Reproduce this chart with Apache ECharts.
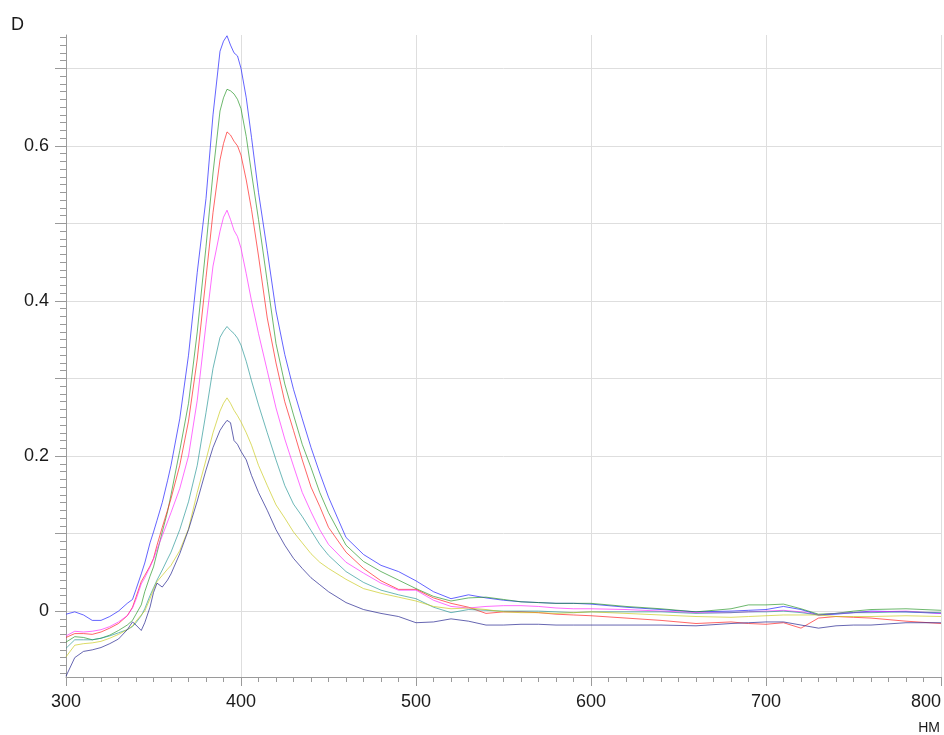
<!DOCTYPE html>
<html>
<head>
<meta charset="utf-8">
<script src="https://cdn.jsdelivr.net/npm/echarts@6/dist/echarts.min.js"></script>
<style>
  html, body { margin: 0; padding: 0; background: #ffffff; }
  #chart { width: 944px; height: 735px; }
</style>
</head>
<body>
<div id="chart"></div>
<script>
// Wavelength grid (nm) shared by all spectra
const wavelengths = [300,305,310,315,320,325,330,335,338,340,343,345,348,350,352,355,358,360,
  365,370,375,380,384,388,390,392,394,396,398,400,403,406,410,415,420,425,430,435,440,445,450,
  460,470,480,490,500,510,520,530,540,550,560,570,580,590,600,620,640,660,680,
  690,700,710,720,730,740,750,760,780,800];

// Optical density of each spectrum
const specBlue = [-0.004,-0.001,-0.005,-0.012,-0.012,-0.007,0.000,0.010,0.015,0.028,0.048,0.062,0.088,0.102,0.117,0.140,0.168,0.188,
  0.248,0.330,0.437,0.532,0.640,0.722,0.735,0.742,0.730,0.720,0.716,0.700,0.662,0.611,0.540,0.465,0.387,0.331,0.286,0.248,0.211,0.178,0.147,
  0.095,0.073,0.059,0.051,0.039,0.025,0.016,0.021,0.017,0.014,0.012,0.011,0.010,0.010,0.009,0.005,0.002,-0.001,0.000,
  0.001,0.002,0.006,0.002,-0.005,-0.004,-0.002,0.000,-0.001,-0.003];
const specGreen = [-0.040,-0.033,-0.034,-0.037,-0.035,-0.031,-0.025,-0.018,-0.012,-0.004,0.008,0.025,0.045,0.057,0.075,0.102,0.128,0.150,
  0.207,0.268,0.360,0.470,0.565,0.645,0.662,0.673,0.671,0.667,0.660,0.648,0.612,0.565,0.505,0.425,0.345,0.293,0.253,0.215,0.185,0.153,0.127,
  0.085,0.064,0.051,0.040,0.029,0.019,0.013,0.017,0.018,0.015,0.012,0.011,0.010,0.010,0.010,0.006,0.003,-0.001,0.003,
  0.008,0.008,0.009,0.003,-0.004,-0.003,0.000,0.002,0.003,0.001];
const specRed = [-0.034,-0.029,-0.029,-0.030,-0.027,-0.022,-0.016,-0.006,0.005,0.018,0.038,0.046,0.058,0.068,0.085,0.108,0.130,0.145,
  0.188,0.245,0.325,0.430,0.514,0.582,0.603,0.618,0.614,0.606,0.600,0.588,0.556,0.518,0.458,0.378,0.320,0.270,0.233,0.195,0.160,0.135,0.108,
  0.076,0.055,0.039,0.028,0.028,0.017,0.010,0.005,-0.003,-0.001,-0.001,-0.002,-0.004,-0.005,-0.006,-0.009,-0.012,-0.016,-0.014,
  -0.016,-0.017,-0.015,-0.022,-0.009,-0.007,-0.008,-0.009,-0.013,-0.016];
const specMagenta = [-0.032,-0.026,-0.027,-0.026,-0.024,-0.020,-0.014,-0.006,0.004,0.015,0.035,0.043,0.057,0.067,0.080,0.097,0.115,0.127,
  0.158,0.200,0.272,0.370,0.445,0.490,0.508,0.517,0.505,0.491,0.483,0.468,0.435,0.400,0.358,0.310,0.262,0.222,0.187,0.153,0.128,0.105,0.086,
  0.063,0.049,0.036,0.027,0.027,0.014,0.006,0.004,0.006,0.007,0.007,0.006,0.004,0.003,0.003,0.002,0.000,-0.002,-0.002,
  -0.001,0.000,0.001,-0.001,-0.005,-0.003,-0.002,-0.001,0.000,-0.003];
const specTeal = [-0.048,-0.037,-0.037,-0.037,-0.035,-0.032,-0.028,-0.024,-0.020,-0.015,-0.006,0.003,0.020,0.030,0.040,0.053,0.067,0.076,
  0.105,0.141,0.188,0.256,0.313,0.353,0.361,0.367,0.362,0.358,0.352,0.343,0.322,0.297,0.266,0.230,0.195,0.162,0.138,0.122,0.104,0.086,0.072,
  0.051,0.037,0.027,0.021,0.016,0.005,-0.002,0.002,0.001,0.000,0.000,0.000,-0.001,-0.002,-0.001,-0.001,-0.001,-0.003,-0.002,
  -0.001,-0.001,0.000,-0.002,-0.005,-0.003,-0.002,-0.002,-0.001,-0.002];
const specYellow = [-0.059,-0.044,-0.042,-0.041,-0.039,-0.035,-0.030,-0.024,-0.019,-0.013,-0.005,0.000,0.016,0.028,0.038,0.046,0.054,0.059,
  0.078,0.106,0.153,0.195,0.230,0.258,0.268,0.275,0.268,0.259,0.252,0.244,0.230,0.214,0.188,0.162,0.137,0.120,0.102,0.088,0.074,0.063,0.055,
  0.041,0.029,0.023,0.018,0.013,0.006,0.003,0.004,0.002,-0.001,-0.002,-0.002,-0.003,-0.002,-0.001,-0.003,-0.005,-0.007,-0.008,
  -0.007,-0.006,-0.005,-0.005,-0.005,-0.007,-0.007,-0.007,-0.006,-0.007];
const specNavy = [-0.084,-0.060,-0.052,-0.050,-0.047,-0.042,-0.036,-0.024,-0.014,-0.018,-0.025,-0.015,0.005,0.024,0.036,0.031,0.040,0.048,
  0.074,0.105,0.142,0.182,0.211,0.233,0.240,0.246,0.243,0.220,0.215,0.206,0.195,0.175,0.153,0.130,0.105,0.085,0.068,0.055,0.043,0.034,0.025,
  0.011,0.002,-0.003,-0.007,-0.015,-0.014,-0.010,-0.013,-0.018,-0.018,-0.017,-0.017,-0.018,-0.018,-0.018,-0.018,-0.018,-0.019,-0.016,
  -0.015,-0.014,-0.014,-0.018,-0.022,-0.019,-0.018,-0.018,-0.015,-0.015];

// Axis ranges and ticks
const xMin = 300, xMax = 800, xStep = 100;
const yMin = -0.085, yMax = 0.743;
const yMajorTicks = [0, 0.1, 0.2, 0.3, 0.4, 0.5, 0.6, 0.7];
const yLabelTicks = [0, 0.2, 0.4, 0.6];
const yMinorTicks = [];
for (let i = -8; i <= 74; i++) if (i % 10 !== 0) yMinorTicks.push(i / 100);

const spectra = [
  { name: 'S1', values: specBlue,    color: 'rgba(40,40,255,0.72)' },
  { name: 'S2', values: specGreen,   color: 'rgba(20,140,20,0.62)' },
  { name: 'S3', values: specRed,     color: 'rgba(255,30,30,0.68)' },
  { name: 'S4', values: specMagenta, color: 'rgba(255,40,255,0.68)' },
  { name: 'S5', values: specTeal,    color: 'rgba(20,140,140,0.62)' },
  { name: 'S6', values: specYellow,  color: 'rgba(200,200,20,0.65)' },
  { name: 'S7', values: specNavy,    color: 'rgba(30,30,140,0.68)' }
];

const font = "'Liberation Sans', Arial, sans-serif";
const axisGray = '#9a9a9a';

const chart = echarts.init(document.getElementById('chart'), null, { renderer: 'canvas' });
chart.setOption({
  animation: false,
  backgroundColor: '#ffffff',
  grid: { left: 66, right: 3, top: 35, bottom: 58, containLabel: false, outerBoundsMode: 'none' },
  xAxis: {
    type: 'value',
    min: xMin, max: xMax, interval: xStep,
    axisLine: { show: true, onZero: false, lineStyle: { color: axisGray, width: 1 } },
    axisTick: { show: true, length: 9, lineStyle: { color: axisGray } },
    minorTick: { show: true, splitNumber: 10, length: 5, lineStyle: { color: axisGray } },
    axisLabel: { color: '#1a1a1a', fontSize: 18, fontFamily: font, margin: 16, hideOverlap: false, alignMaxLabel: 'right' },
    splitLine: { show: true, lineStyle: { color: '#dedede', width: 1 } }
  },
  yAxis: [
    {
      type: 'value', position: 'left',
      min: yMin, max: yMax,
      axisLine: { show: true, onZero: false, lineStyle: { color: axisGray, width: 1 } },
      axisTick: { show: true, length: 11, customValues: yMajorTicks, lineStyle: { color: axisGray } },
      axisLabel: { color: '#1a1a1a', fontSize: 18, fontFamily: font, margin: 17, customValues: yLabelTicks },
      splitLine: { show: true, lineStyle: { color: '#dedede', width: 1 } }
    },
    {
      type: 'value', position: 'left',
      min: yMin, max: yMax,
      axisLine: { show: false, onZero: false },
      axisTick: { show: true, length: 6, customValues: yMinorTicks, lineStyle: { color: axisGray } },
      axisLabel: { show: false },
      splitLine: { show: false }
    }
  ],
  graphic: [
    { type: 'text', left: 11, top: 16, style: { text: 'D', fontSize: 18, fontFamily: font, fill: '#1a1a1a' } },
    { type: 'text', right: 4, bottom: 0, style: { text: 'HM', fontSize: 14, fontFamily: font, fill: '#1a1a1a' } }
  ],
  series: spectra.map(s => ({
    name: s.name,
    type: 'line',
    yAxisIndex: 0,
    showSymbol: false,
    symbol: 'none',
    silent: true,
    lineStyle: { color: s.color, width: 1 },
    data: wavelengths.map((w, i) => [w, s.values[i]])
  }))
});
</script>
</body>
</html>
